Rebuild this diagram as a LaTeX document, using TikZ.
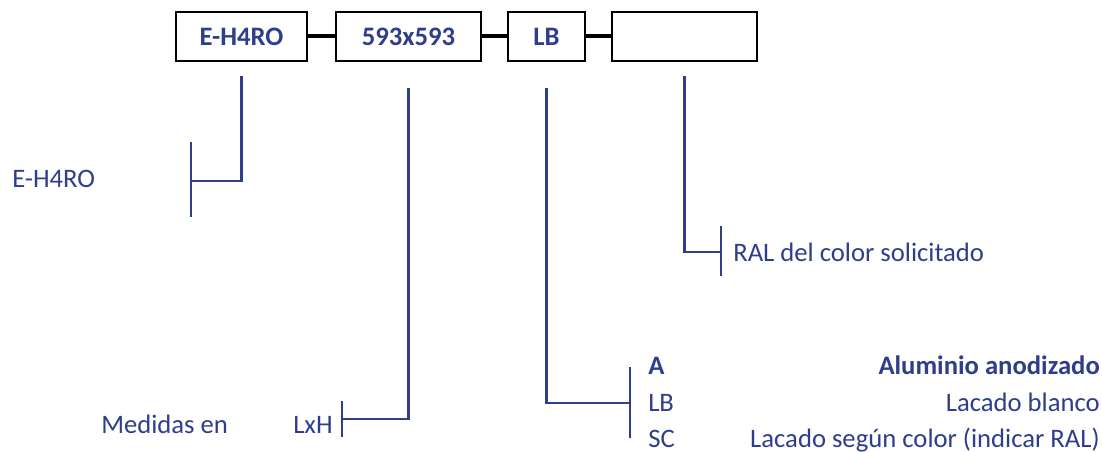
\documentclass[tikz,border=0pt]{standalone}
\usepackage{fontspec}
\setmainfont{Carlito}
\usetikzlibrary{calc}
\definecolor{navy}{RGB}{46,61,140}
\begin{document}
\begin{tikzpicture}[x=0.75pt, y=-0.75pt,
        codebox/.style={draw=black, line width=1.5pt, inner sep=0pt, outer sep=0pt,
            minimum height=36.75pt, text=navy, font=\fontsize{20}{24}\selectfont\bfseries},
        link/.style={black, line width=3pt},
        lead/.style={navy, line width=2pt},
        txt/.style={inner sep=0pt, text=navy, font=\fontsize{20}{24}\selectfont}]
    \useasboundingbox (0,0) rectangle (1102,452);
    % code boxes
    \node[codebox, minimum width=98.25pt] (b1) at (241.5,36.5) {E-H4RO};
    \node[codebox, minimum width=108.75pt] (b2) at (408.5,36.5) {593x593};
    \node[codebox, minimum width=57.75pt] (b3) at (546.5,36.5) {LB};
    \node[codebox, minimum width=108.75pt] (b4) at (684.5,36.5) {};
    \draw[link] (b1.east) -- (b2.west);
    \draw[link] (b2.east) -- (b3.west);
    \draw[link] (b3.east) -- (b4.west);
    % brackets
    \coordinate (k1) at (191,181);
    \coordinate (k2) at (342,419);
    \coordinate (k3) at (630,403);
    \coordinate (k4) at (721,252);
    \draw[lead] ($(b1.south)+(0,15)$) |- (k1);
    \draw[lead] ($(b2.south)+(0,27)$) |- (k2);
    \draw[lead] ($(b3.south)+(0,27)$) |- (k3);
    \draw[lead] ($(b4.south)+(0,15)$) |- (k4);
    \draw[lead] ($(k1)+(0,-39)$) -- ($(k1)+(0,36)$);
    \draw[lead] ($(k2)+(0,-18)$) -- ($(k2)+(0,18)$);
    \draw[lead] ($(k3)+(0,-36)$) -- ($(k3)+(0,35)$);
    \draw[lead] ($(k4)+(0,-26)$) -- ($(k4)+(0,24)$);
    % texts
    \node[txt, anchor=base west] (serie) at (12,188) {E-H4RO};
    \node[txt, anchor=base west] (medidas) at (101,433) {Medidas en};
    \node[txt, anchor=base west] (lxh) at (293,433) {LxH};
    \node[txt, anchor=base west] (ral) at (733,262) {RAL del color solicitado};
    \node[txt, anchor=base west, font=\fontsize{20}{24}\selectfont\bfseries] (ca) at (648,374) {A};
    \node[txt, anchor=base west] (clb) at (648,411) {LB};
    \node[txt, anchor=base west] (csc) at (648,447) {SC};
    \node[txt, anchor=base east, font=\fontsize{20}{24}\selectfont\bfseries] (da) at (1100,374) {Aluminio anodizado};
    \node[txt, anchor=base east] (dlb) at (1100,411) {Lacado blanco};
    \node[txt, anchor=base east] (dsc) at (1100,447) {Lacado según color (indicar RAL)};
\end{tikzpicture}
\end{document}
